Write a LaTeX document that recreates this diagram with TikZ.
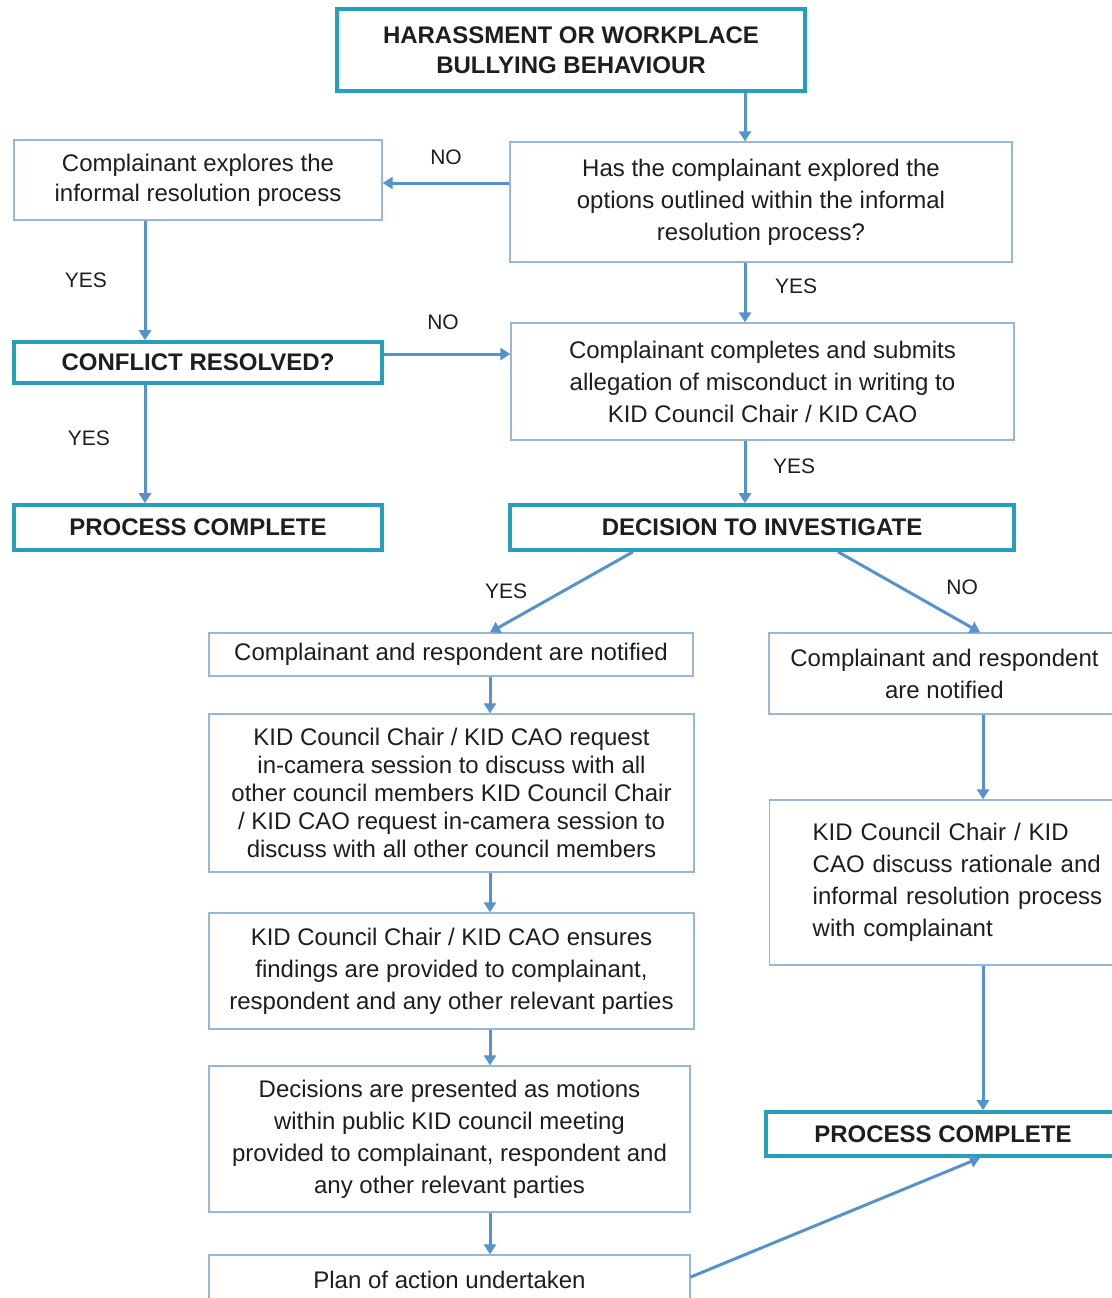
\documentclass[tikz,border=0pt]{standalone}
\usepackage{fontspec}
\setmainfont{Liberation Sans}
\usetikzlibrary{arrows.meta,positioning}

\definecolor{tealline}{RGB}{40,158,190}
\definecolor{thinline}{RGB}{150,182,220}
\definecolor{arrowblue}{RGB}{86,146,205}
\definecolor{textgray}{RGB}{30,30,30}

\tikzset{
  thinbox/.style={draw=thinline, line width=0.7pt, fill=white, align=center,
    inner sep=0pt, text=textgray, font=\fontsize{12}{16}\selectfont},
  thickbox/.style={draw=tealline, line width=1.8pt, fill=white, align=center,
    inner sep=0pt, text=textgray, font=\fontsize{12}{15}\selectfont\bfseries},
  arr/.style={draw=arrowblue, line width=1.5pt, -{Triangle[length=5pt,width=6pt]}},
  lbl/.style={text=textgray, font=\fontsize{10.5}{12}\selectfont}
}

\begin{document}
\begin{tikzpicture}[x=0.5pt, y=-0.5pt]
    \useasboundingbox (0,0) rectangle (1112,1298);

    % Top row
    \node[thickbox, minimum width=234pt, minimum height=41pt] (start) at (571,50)
      {HARASSMENT OR WORKPLACE\\BULLYING BEHAVIOUR};
    \node[thinbox, minimum width=251pt, minimum height=60pt] (explored) at (761,202)
      {Has the complainant explored the\\options outlined within the informal\\resolution process?};
    \node[thinbox, minimum width=184pt, minimum height=40pt,
      font=\fontsize{12}{15}\selectfont] (explore) at (198,180)
      {Complainant explores the\\informal resolution process};

    % Middle rows
    \node[thickbox, minimum width=184pt, minimum height=20.5pt] (resolved) at (198,362.5)
      {CONFLICT RESOLVED?};
    \node[thinbox, minimum width=251.5pt, minimum height=58.5pt] (submit) at (762.5,381.5)
      {Complainant completes and submits\\allegation of misconduct in writing to\\KID Council Chair / KID CAO};
    \node[thickbox, minimum width=184pt, minimum height=22.5pt] (doneleft) at (198,527.5)
      {PROCESS COMPLETE};
    \node[thickbox, minimum width=252pt, minimum height=22.5pt] (investigate) at (762,527.5)
      {DECISION TO INVESTIGATE};

    % Left column (investigation)
    \node[thinbox, minimum width=242pt, minimum height=21.5pt] (notifyleft) at (451,654.5)
      {Complainant and respondent are notified};
    \node[thinbox, minimum width=242.5pt, minimum height=79pt,
      font=\fontsize{12}{14}\selectfont] (incamera) at (451.5,793)
      {KID Council Chair / KID CAO request\\in-camera session to discuss with all\\other council members KID Council Chair\\/ KID CAO request in-camera session to\\discuss with all other council members};
    \node[thinbox, minimum width=242.5pt, minimum height=58pt] (findings) at (451.5,971)
      {KID Council Chair / KID CAO ensures\\findings are provided to complainant,\\respondent and any other relevant parties};
    \node[thinbox, minimum width=240.5pt, minimum height=73pt] (motions) at (449.5,1139)
      {Decisions are presented as motions\\within public KID council meeting\\provided to complainant, respondent and\\any other relevant parties};
    \node[thinbox, minimum width=240.5pt, minimum height=25pt] (plan) at (449.5,1280)
      {Plan of action undertaken};

    % Right column (no investigation)
    \node[thinbox, minimum width=175.5pt, minimum height=40.5pt] (notifyright) at (944.5,673.5)
      {Complainant and respondent\\are notified};
    \node[thinbox, anchor=west, align=left, text width=150pt, inner xsep=21.5pt,
      minimum height=82.5pt] (rationale) at (769,882.5)
      {KID Council Chair / KID\\CAO discuss rationale and\\informal resolution process\\with complainant};
    \node[thickbox, minimum width=177pt, minimum height=22pt] (doneright) at (943,1134)
      {PROCESS COMPLETE};

    % Columns for the straight connectors
    \coordinate (lcol) at (145,0);
    \coordinate (mcol) at (745,0);
    \coordinate (icol) at (490,0);
    \coordinate (rcol) at (983,0);

    % Connectors
    \draw[arr] (start.south -| mcol) -- (explored.north -| mcol);
    \draw[arr] ([yshift=9.5pt]explored.west) -- ([yshift=9.5pt]explored.west -| explore.east)
      node[lbl, midway, above=5pt] {NO};
    \draw[arr] (explore.south -| lcol) -- (resolved.north -| lcol)
      node[lbl, midway, left=15pt] {YES};
    \draw[arr] ([yshift=4.25pt]resolved.east) -- ([yshift=4.25pt]resolved.east -| submit.west)
      node[lbl, midway, above=8pt, xshift=-2pt] {NO};
    \draw[arr] (resolved.south -| lcol) -- (doneleft.north -| lcol)
      node[lbl, midway, left=13.5pt, yshift=3pt] {YES};
    \draw[arr] (explored.south -| mcol) -- (submit.north -| mcol)
      node[lbl, midway, right=11pt, yshift=3pt] {YES};
    \draw[arr] (submit.south -| mcol) -- (investigate.north -| mcol)
      node[lbl, midway, right=10pt, yshift=3pt] {YES};
    \draw[arr] ([xshift=-64.5pt]investigate.south) -- ([xshift=19.5pt]notifyleft.north)
      node[lbl, pos=0.6, xshift=-20.5pt, yshift=4.5pt] {YES};
    \draw[arr] ([xshift=38pt]investigate.south) -- ([xshift=17.75pt]notifyright.north)
      node[lbl, pos=0.6, xshift=19.5pt, yshift=6.5pt] {NO};
    \draw[arr] (notifyleft.south -| icol) -- (incamera.north -| icol);
    \draw[arr] (incamera.south -| icol) -- (findings.north -| icol);
    \draw[arr] (findings.south -| icol) -- (motions.north -| icol);
    \draw[arr] (motions.south -| icol) -- (plan.north -| icol);
    \draw[arr] (notifyright.south -| rcol) -- (rationale.north -| rcol);
    \draw[arr] (rationale.south -| rcol) -- (doneright.north -| rcol);
    \draw[arr] ([yshift=1.5pt]plan.east) -- ([xshift=18.5pt]doneright.south);
\end{tikzpicture}
\end{document}
